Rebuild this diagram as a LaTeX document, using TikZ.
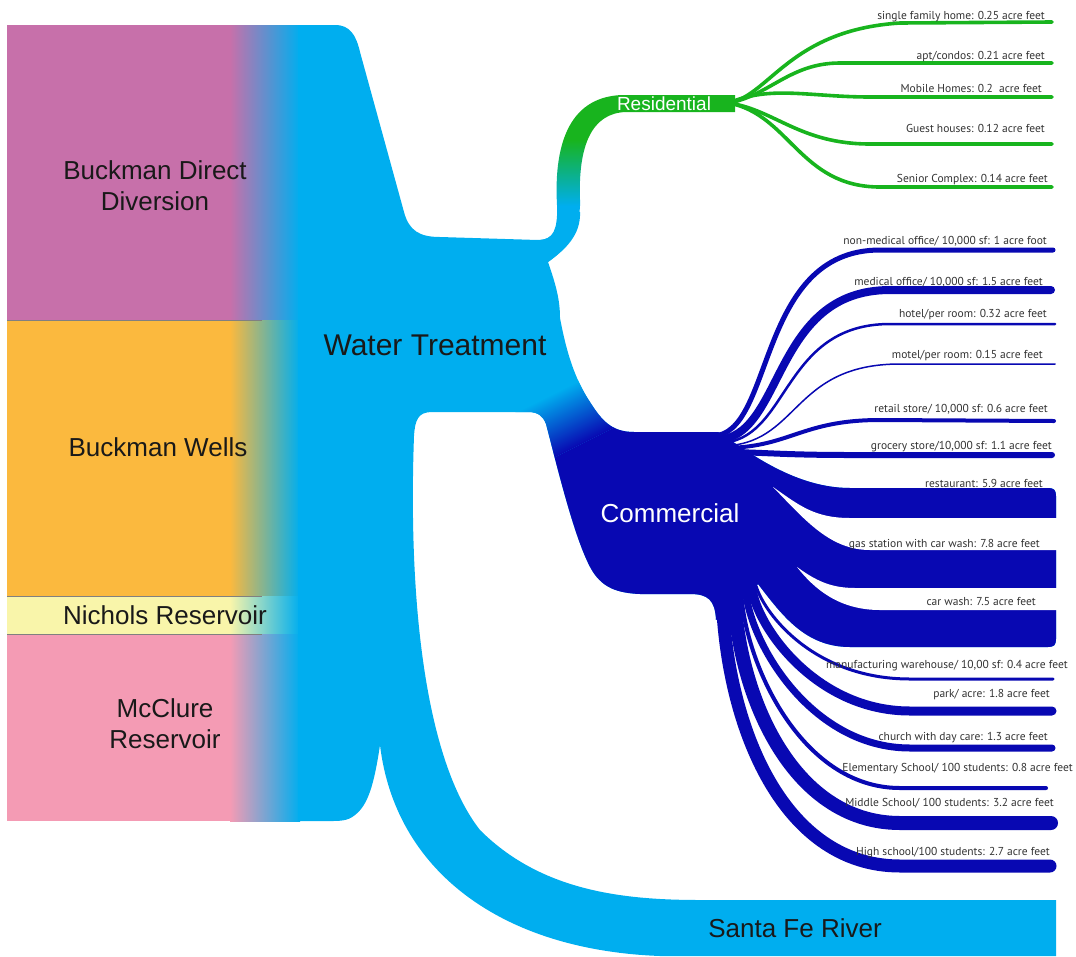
\documentclass[tikz,border=0pt]{standalone}
\usepackage{fontspec}
\setmainfont{Liberation Sans}
\newfontfamily\lblfont{PT Sans}

\definecolor{wtblue}{RGB}{0,174,239}
\definecolor{comblue}{RGB}{8,8,178}
\definecolor{resgreen}{RGB}{24,180,30}
\definecolor{bddpink}{RGB}{199,112,170}
\definecolor{wellorange}{RGB}{251,185,62}
\definecolor{nicholsyellow}{RGB}{249,245,170}
\definecolor{mcclurepink}{RGB}{244,155,180}

% outlines that are filled and clipped
\newcommand{\mainpath}{(298,25) -- (335,25) .. controls (350,25) and (356,35) .. (360,52)
  -- (404,212) .. controls (409,231) and (420,237) .. (440,237)
  -- (538,240) .. controls (552,240) and (558,232) .. (557,212)
  -- (580,212) .. controls (581,235) and (565,250) .. (548,262)
  .. controls (556,285) and (560,300) .. (560,318)
  .. controls (566,350) and (574,378) .. (590,402)
  .. controls (602,421) and (612,432) .. (634,432) -- (718,432)
  .. controls (740,445) and (790,488) .. (850,488) -- (1048,488)
  .. controls (1054,488) and (1056,490) .. (1056,496) -- (1056,639)
  .. controls (1056,645) and (1054,647) .. (1048,647) -- (850,647)
  .. controls (805,647) and (782,615) .. (758,584) -- (740,602) -- (716,620)
  .. controls (715,600) and (708,594) .. (690,594) -- (640,594)
  .. controls (616,593) and (603,587) .. (593,572)
  .. controls (576,545) and (558,470) .. (546,424)
  .. controls (543,416) and (538,412) .. (528,412)
  -- (432,412) .. controls (418,412) and (415,420) .. (414,436)
  .. controls (408,600) and (425,760) .. (480,830)
  .. controls (540,890) and (620,900) .. (700,900)
  -- (1056,900) -- (1056,956) -- (660,956)
  .. controls (500,950) and (395,870) .. (380,745)
  .. controls (374,785) and (368,805) .. (355,815)
  .. controls (348,821) and (340,821) .. (330,821)
  -- (298,821) -- cycle}
\newcommand{\respath}{(540,240) .. controls (553,239) and (558,230) .. (557,205)
  .. controls (554,150) and (566,97) .. (622,95) -- (735,95) -- (735,112) -- (626,112)
  .. controls (592,113) and (578,145) .. (580,200)
  .. controls (581,232) and (565,250) .. (548,262) -- (540,250) -- cycle}

\tikzset{
  resflow/.style={draw=resgreen, line width=3.6pt, line cap=round},
  comflow/.style={draw=comblue, line cap=round},
  flowlbl/.style={anchor=base east, inner sep=0pt, text=black!80, font=\lblfont\fontsize{11.5}{13}\selectfont},
  srclbl/.style={align=center, text=black!90, font=\fontsize{26}{31}\selectfont},
}

\begin{document}
\begin{tikzpicture}[x=1pt, y=-1pt]
    \useasboundingbox (0,0) rectangle (1076,956);

    % sources
    \fill[bddpink] (7,25) rectangle (232,320);
    \shade[left color=bddpink, right color=wtblue] (230,25) rectangle (300,320);
    \fill[wellorange] (7,320) rectangle (232,596);
    \shade[left color=wellorange, right color=wtblue] (230,320) rectangle (300,596);
    \fill[nicholsyellow] (7,596) rectangle (232,634);
    \shade[left color=nicholsyellow, right color=wtblue] (230,596) rectangle (300,634);
    \fill[mcclurepink] (7,634) rectangle (232,821);
    \shade[left color=mcclurepink, right color=wtblue] (230,634) rectangle (300,821);
    \draw[black!50, line width=0.7pt] (7,320) -- (262,320) (7,596) -- (262,596) (7,634) -- (262,634);

    % water treatment, commercial body and river
    \fill[wtblue] \mainpath;
    \begin{scope}
        \clip \mainpath;
        \clip (515,290) rectangle (1070,700);
        \begin{scope}[transform canvas={rotate around={-63.43:(560,410)}}]
            \shade[left color=wtblue, right color=comblue] (542,-300) rectangle (600,900);
            \fill[comblue] (600,-300) rectangle (1300,900);
        \end{scope}
    \end{scope}
    \fill[white] (773,487) .. controls (800,506) and (815,518) .. (850,518) -- (1062,518)
        -- (1062,550) -- (870,550) .. controls (830,550) and (805,520) .. (773,487) -- cycle;
    \fill[white] (797,567) .. controls (815,580) and (830,588) .. (855,588) -- (1062,588)
        -- (1062,610) -- (880,610) .. controls (840,610) and (815,590) .. (797,567) -- cycle;

    % residential stem
    \begin{scope}
        \clip \respath;
        \fill[resgreen] (520,80) rectangle (740,140);
        \shade[top color=resgreen, bottom color=wtblue] (520,140) rectangle (740,206);
        \fill[wtblue] (520,206) rectangle (740,270);
    \end{scope}

    % residential uses
    \coordinate (resorg) at (729,103);
    \coordinate (rSingle) at (1052,22);
    \coordinate (rApt) at (1052,63);
    \coordinate (rMobile) at (1052,97);
    \coordinate (rGuest) at (1052,144);
    \coordinate (rSenior) at (1052,187);
    \draw[resflow] (resorg) .. controls (770,95) and (790,30) .. (900,23) -- (rSingle);
    \draw[resflow] (resorg) .. controls (770,95) and (790,63) .. (840,63) -- (rApt);
    \draw[resflow] (resorg) .. controls (770,85) and (810,97) .. (870,97) -- (rMobile);
    \draw[resflow] (resorg) .. controls (775,110) and (800,144) .. (870,144) -- (rGuest);
    \draw[resflow] (resorg) .. controls (790,115) and (800,187) .. (880,187) -- (rSenior);

    % commercial uses, upper fan
    \coordinate (cNonMed) at (1053,250);
    \coordinate (cMedical) at (1051,290);
    \coordinate (cHotel) at (1055,324);
    \coordinate (cMotel) at (1055,364);
    \coordinate (cRetail) at (1054,421);
    \coordinate (cGrocery) at (1052,455);
    \draw[comflow, line width=5pt] (712,436) .. controls (775,436) and (755,250) .. (880,250) -- (cNonMed);
    \draw[comflow, line width=8pt] (715,440) .. controls (785,440) and (770,290) .. (890,290) -- (cMedical);
    \draw[comflow, line width=2.5pt] (718,443) .. controls (790,443) and (780,324) .. (890,324) -- (cHotel);
    \draw[comflow, line width=1.5pt] (720,446) .. controls (800,446) and (790,364) .. (900,364) -- (cMotel);
    \draw[comflow, line width=4pt] (722,448) .. controls (790,448) and (800,420) .. (880,420) -- (cRetail);
    \draw[comflow, line width=6pt] (722,452) .. controls (760,452) and (780,455) .. (850,455) -- (cGrocery);

    % commercial uses, lower fan
    \coordinate (cManuf) at (1053,679);
    \coordinate (cPark) at (1052,711);
    \coordinate (cChurch) at (1052,748);
    \coordinate (cElem) at (1046,788);
    \coordinate (cMiddle) at (1051,823);
    \coordinate (cHigh) at (1050,866);
    \draw[comflow, line width=3pt] (756,586) .. controls (765,615) and (815,679) .. (910,679) -- (cManuf);
    \draw[comflow, line width=9pt] (752,588) .. controls (756,625) and (815,711) .. (910,711) -- (cPark);
    \draw[comflow, line width=7pt] (745.5,588) .. controls (748,640) and (810,748) .. (910,748) -- (cChurch);
    \draw[comflow, line width=4pt] (741,588) .. controls (743,660) and (800,788) .. (900,788) -- (cElem);
    \draw[comflow, line width=14pt] (734,588) .. controls (736,690) and (790,823) .. (900,823) -- (cMiddle);
    \draw[comflow, line width=13pt] (722,588) .. controls (724,720) and (780,866) .. (900,866) -- (cHigh);

    % big labels
    \node[srclbl] (bdd) at (155,186) {Buckman Direct\\Diversion};
    \node[srclbl] (bwells) at (158,447) {Buckman Wells};
    \node[srclbl] (nichols) at (165,615) {Nichols Reservoir};
    \node[srclbl] (mcclure) at (165,724) {McClure\\Reservoir};
    \node[text=black!90, font=\fontsize{30}{36}\selectfont] (wt) at (435,345) {Water Treatment};
    \node[text=white, font=\fontsize{26}{31}\selectfont] (com) at (670,513) {Commercial};
    \node[text=white, font=\fontsize{19}{22}\selectfont] (res) at (664,104) {Residential};
    \node[srclbl] (sfr) at (795,928) {Santa Fe River};

    % use labels
    \node[flowlbl] (lSingle) at (1045,19) {single family home: 0.25 acre feet};
    \node[flowlbl] (lApt) at (1045,59) {apt/condos: 0.21 acre feet};
    \node[flowlbl] (lMobile) at (1042,92) {Mobile Homes: 0.2\ \ acre feet};
    \node[flowlbl] (lGuest) at (1045,132) {Guest houses: 0.12 acre feet};
    \node[flowlbl] (lSenior) at (1048,182) {Senior Complex: 0.14 acre feet};
    \node[flowlbl] (lNonMed) at (1047,244) {non-medical office/ 10,000 sf: 1 acre foot};
    \node[flowlbl] (lMedical) at (1043,285) {medical office/ 10,000 sf: 1.5 acre feet};
    \node[flowlbl] (lHotel) at (1047,317) {hotel/per room: 0.32 acre feet};
    \node[flowlbl] (lMotel) at (1043,358) {motel/per room: 0.15 acre feet};
    \node[flowlbl] (lRetail) at (1048,412) {retail store/ 10,000 sf: 0.6 acre feet};
    \node[flowlbl] (lGrocery) at (1052,449) {grocery store/10,000 sf: 1.1 acre feet};
    \node[flowlbl] (lRestaurant) at (1043,487) {restaurant: 5.9 acre feet};
    \node[flowlbl] (lGas) at (1040,547) {gas station with car wash: 7.8 acre feet};
    \node[flowlbl] (lCarWash) at (1036,605) {car wash: 7.5 acre feet};
    \node[flowlbl] (lManuf) at (1068,668) {manufacturing warehouse/ 10,00 sf: 0.4 acre feet};
    \node[flowlbl] (lPark) at (1050,697) {park/ acre: 1.8 acre feet};
    \node[flowlbl] (lChurch) at (1048,740) {church with day care: 1.3 acre feet};
    \node[flowlbl] (lElem) at (1073,771) {Elementary School/ 100 students: 0.8 acre feet};
    \node[flowlbl] (lMiddle) at (1054,806) {Middle School/ 100 students: 3.2 acre feet};
    \node[flowlbl] (lHigh) at (1050,855) {High school/100 students: 2.7 acre feet};
\end{tikzpicture}
\end{document}
